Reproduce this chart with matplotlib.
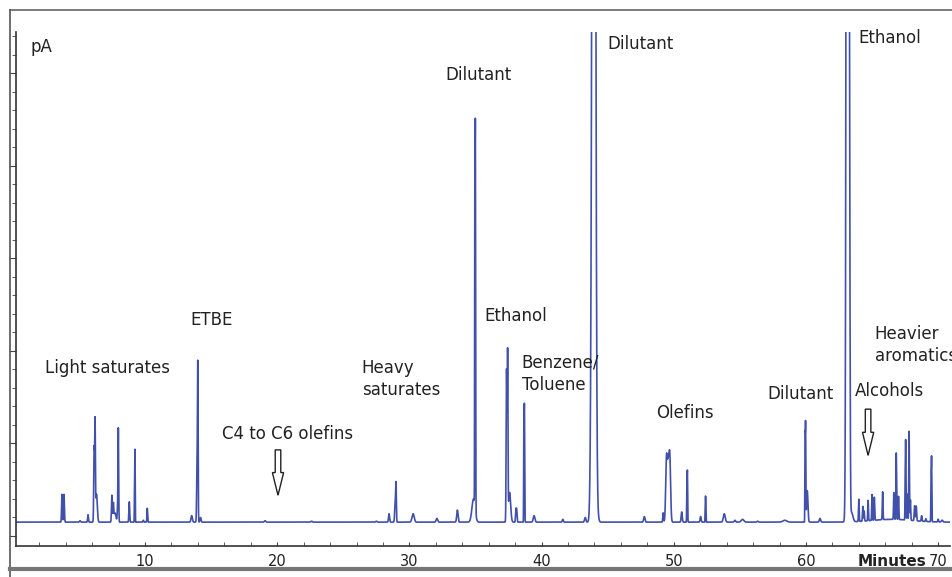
import numpy as np
import matplotlib
matplotlib.use("Agg")
import matplotlib.pyplot as plt
from matplotlib.lines import Line2D
from matplotlib.patches import FancyArrow
from matplotlib.ticker import MultipleLocator
from matplotlib.transforms import blended_transform_factory

# peak table: retention time (min), height (pA above baseline), width (min)
peak_times = [3.72, 3.87, 5.08, 5.69, 6.15, 6.22, 6.33, 7.49, 7.60, 7.72, 7.92, 7.98,
              8.81, 9.21, 9.24, 9.87, 10.17, 13.53, 13.93, 13.99, 14.2, 19.08, 22.6, 27.5,
              28.46, 28.93, 28.99, 30.28, 32.08, 33.63, 34.85, 34.95, 34.99, 37.35, 37.43,
              37.58, 38.06, 38.12, 38.66, 38.70, 39.43, 41.6, 43.3, 43.75, 43.95, 44.15,
              47.77, 49.2, 49.45, 49.58, 49.7, 50.6, 50.99, 51.03, 52.03, 52.38, 52.41, 53.82,
              54.63, 55.2, 56.34, 58.4, 59.93, 59.97, 60.1, 61.06, 63.15, 63.3, 63.45,
              64.0, 64.3, 64.4, 64.7, 65.0, 65.17, 65.8, 66.65, 66.83, 67.0, 67.5, 67.54,
              67.67, 67.8, 67.9, 68.22, 68.34, 68.75, 69.07, 69.46, 69.5, 70.0, 70.3, 66.5]
peak_heights = [30, 30, 1.5, 8, 80, 103, 30, 29, 18, 10, 13, 100,
                22, 50, 70, 2, 15, 7, 48, 168, 5, 1.5, 1, 1,
                9, 22, 36, 9, 4, 13, 25, 330, 412, 164, 178,
                32, 13, 12, 105, 125, 7, 3, 5, 55, 2000, 18,
                6, 10, 68, 55, 68, 11, 38, 55, 6, 12, 26, 9,
                2, 3, 1, 2, 80, 106, 34, 4, 3000, 190, 10,
                24, 16, 11, 22, 28, 25, 30, 29, 72, 25, 27, 86,
                28, 96, 22, 16, 16, 6, 3, 40, 70, 3, 2, 3]
peak_widths = [0.03, 0.03, 0.04, 0.03, 0.03, 0.025, 0.06, 0.03, 0.03, 0.08, 0.03, 0.025,
               0.03, 0.015, 0.015, 0.03, 0.025, 0.05, 0.03, 0.025, 0.04, 0.05, 0.05, 0.05,
               0.04, 0.04, 0.025, 0.08, 0.06, 0.05, 0.12, 0.015, 0.02, 0.03, 0.025,
               0.08, 0.03, 0.03, 0.015, 0.02, 0.06, 0.04, 0.05, 0.08, 0.1, 0.1,
               0.05, 0.03, 0.06, 0.06, 0.06, 0.04, 0.015, 0.02, 0.04, 0.015, 0.02, 0.07,
               0.05, 0.1, 0.05, 0.15, 0.015, 0.02, 0.05, 0.05, 0.07, 0.04, 0.1,
               0.025, 0.025, 0.025, 0.025, 0.025, 0.025, 0.025, 0.025, 0.025, 0.025, 0.015, 0.022,
               0.025, 0.022, 0.025, 0.03, 0.03, 0.03, 0.03, 0.015, 0.02, 0.03, 0.05, 1.5]
baseline = 15

# annotations: label, time (left edge), pA
labels = ["pA", "Light saturates", "ETBE", "C4 to C6 olefins", "Heavy\nsaturates", "Dilutant",
          "Ethanol", "Benzene/\nToluene", "Dilutant", "Olefins", "Dilutant", "Ethanol",
          "Heavier\naromatics", "Alcohols"]
label_x = [1.3, 2.44, 13.4, 15.82, 26.4, 32.7, 35.7, 38.5, 44.95, 48.7, 57.05, 63.93, 65.2, 63.7]
label_y = [528, 181, 233, 110, 170, 498, 238, 175, 531, 133, 153, 538, 206, 157]

# hollow arrows: time, top pA, tip pA
arrow_x = [20.06, 64.7]
arrow_top = [93, 137]
arrow_tip = [44, 87]

t = np.arange(0.2, 71.0, 0.004)
signal = np.full_like(t, baseline, dtype=float)
for t0, h, w in zip(peak_times, peak_heights, peak_widths):
    signal += h * np.exp(-0.5 * ((t - t0) / w) ** 2)

fig = plt.figure(figsize=(9.53, 5.77), dpi=100)
ax = fig.add_axes([0.0168, 0.0537, 0.9801, 0.8908])
ax.plot(t, signal, color="#4150aa", lw=1.2)

ax.set_xlim(0.24, 70.9)
ax.set_ylim(-10.8, 544.3)
ax.spines["top"].set_visible(False)
ax.spines["right"].set_visible(False)
for s in ["left", "bottom"]:
    ax.spines[s].set_color("#333333")
    ax.spines[s].set_linewidth(1.2)

ax.xaxis.set_major_locator(MultipleLocator(10))
ax.xaxis.set_minor_locator(MultipleLocator(2))
ax.yaxis.set_major_locator(MultipleLocator(100))
ax.yaxis.set_minor_locator(MultipleLocator(20))
ax.tick_params(axis="x", which="both", direction="in", length=3, color="#444444",
               labelsize=10.5, labelcolor="#222222", pad=6)
ax.tick_params(axis="y", which="major", direction="out", length=5, color="#444444", labelleft=False)
ax.tick_params(axis="y", which="minor", direction="out", length=3, color="#444444")

for s, x, y in zip(labels, label_x, label_y):
    ax.text(x, y, s, ha="left", va="center", fontsize=12, color="#222222", linespacing=1.3)

trans = blended_transform_factory(ax.transData, ax.transAxes)
ax.text(66.5, -0.031, "Minutes", transform=trans, ha="center", va="center",
        fontsize=11, fontweight="bold", color="#222222")

for x, top, tip in zip(arrow_x, arrow_top, arrow_tip):
    ax.add_patch(FancyArrow(x, top, 0, tip - top, width=0.42, head_width=0.85,
                            head_length=(top - tip) * 0.5, length_includes_head=True,
                            fc="white", ec="#222222", lw=1.0))

# outer frame of the original figure
fig.add_artist(Line2D([10 / 953, 1], [1 - 10 / 577] * 2, transform=fig.transFigure,
                      color="#666666", lw=1.2))
fig.add_artist(Line2D([10 / 953] * 2, [0, 1 - 10 / 577], transform=fig.transFigure,
                      color="#555555", lw=1.2))
fig.add_artist(Line2D([10 / 953, 1], [1 - 569 / 577] * 2, transform=fig.transFigure,
                      color="#777777", lw=3))

fig.savefig("out.png", dpi=100)
